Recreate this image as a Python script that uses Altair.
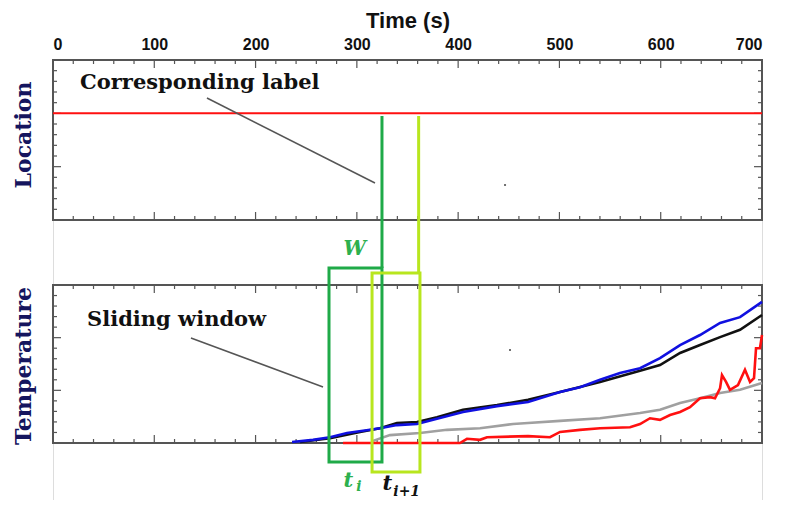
import altair as alt
import pandas as pd

# ---------------- data ----------------
x_tick_labels = [0, 100, 200, 300, 400, 500, 600, 700]
x_minor_step = 20
y_minor_step = 0.2          # both panels run 0..3 in their own units
y_major_every = 5

# Location panel: the label line
location_t = [0, 700]
location_val = [2, 2]

# Temperature panel curves (t in s, temperature in panel units 0..3)
blue_t = [236, 256.7, 273.5, 290.3, 313.0, 322.8, 339.6, 359.4, 379.1, 404.8, 438.4, 469.0,
          500.6, 520.3, 540.1, 559.8, 579.6, 599.3, 619.1, 638.8, 658.6, 678.3, 700]
blue_T = [0.02, 0.06, 0.11, 0.19, 0.25, 0.28, 0.34, 0.36, 0.46, 0.59, 0.70, 0.78,
          0.97, 1.06, 1.20, 1.33, 1.42, 1.61, 1.86, 2.05, 2.28, 2.39, 2.68]

black_t = [243.9, 273.5, 303.1, 322.8, 339.6, 359.4, 379.1, 404.8, 438.4, 469.0, 500.6,
           540.1, 579.6, 599.3, 619.1, 638.8, 658.6, 678.3, 700]
black_T = [0.02, 0.09, 0.21, 0.28, 0.38, 0.40, 0.49, 0.63, 0.72, 0.82, 0.97,
           1.16, 1.37, 1.48, 1.71, 1.86, 2.01, 2.15, 2.43]

gray_t = [315.9, 332.7, 362.3, 389.0, 421.6, 454.2, 469.0, 500.6, 540.1, 579.6, 599.3,
          619.1, 638.8, 658.6, 678.3, 700]
gray_T = [0.04, 0.15, 0.19, 0.25, 0.28, 0.36, 0.38, 0.42, 0.47, 0.57, 0.63,
          0.76, 0.85, 0.95, 1.01, 1.14]

red_t = [286.3, 401.8, 408.7, 421.6, 428.5, 469.0, 490.7, 500.6, 520.3, 540.1, 569.7,
         579.6, 589.4, 599.3, 609.2, 619.1, 628.9, 638.8, 648.7, 653.6, 658.6, 660.5,
         664.5, 668.4, 676.3, 683.2, 688.2, 692.1, 694.1, 698.0, 700]
red_T = [0.0, 0.0, 0.08, 0.06, 0.11, 0.13, 0.11, 0.21, 0.25, 0.28, 0.30,
         0.36, 0.47, 0.44, 0.53, 0.59, 0.68, 0.85, 0.87, 0.85, 1.04, 1.29,
         1.16, 1.01, 1.10, 1.39, 1.16, 1.23, 1.80, 1.80, 2.05]

# Sliding windows (t_i and t_i+1)
window_left = [272.5, 315.0]
window_right = [324.8, 362.3]
window_colors = ["#1faa48", "#b8e61e"]

# ---------------- layout (figure units = px inside plot area) ----------------
W, H = 709, 440
TOP_Y0, TOP_Y3 = 160, 0        # Location 0 and 3
BOT_Y0, BOT_Y3 = 383, 225      # Temperature 0 and 3
PX_T = 700 / W                 # seconds per pixel


def fy_top(v):
    return TOP_Y0 + (TOP_Y3 - TOP_Y0) * v / 3


def fy_bot(v):
    return BOT_Y0 + (BOT_Y3 - BOT_Y0) * v / 3


xs = alt.Scale(domain=[0, 700], nice=False, zero=False)
ys = alt.Scale(domain=[0, H], reverse=True, nice=False, zero=False)
xaxis = alt.Axis(orient="top", values=x_tick_labels, domain=False, ticks=False, grid=False,
                 labelFont="Liberation Sans", labelFontWeight="bold", labelFontSize=16,
                 labelColor="#111", labelPadding=8, title="Time (s)",
                 titleFont="Liberation Sans", titleFontSize=22, titleFontWeight="bold",
                 titleColor="#111", titlePadding=4)
X = alt.X("t:Q", scale=xs, axis=xaxis)
Y = alt.Y("fy:Q", scale=ys, axis=None)
X2 = alt.X2("t2:Q")
Y2 = alt.Y2("fy2:Q")

# frames
frames = pd.DataFrame({"t": [0, 0], "t2": [700, 700],
                       "fy": [fy_top(3), fy_bot(3)], "fy2": [fy_top(0), fy_bot(0)]})

# tick marks (inward)
rows = []
for panel in (fy_top, fy_bot):
    ytop, ybot = panel(3), panel(0)
    for t in range(0, 701, x_minor_step):
        ln = 8 if t % 100 == 0 else 4
        rows.append({"t": t, "t2": t, "fy": ytop, "fy2": ytop + ln})
        rows.append({"t": t, "t2": t, "fy": ybot, "fy2": ybot - ln})
    for k in range(0, 16):
        v = k * y_minor_step
        ln = (8 if k % y_major_every == 0 else 4) * PX_T
        rows.append({"t": 0, "t2": ln, "fy": panel(v), "fy2": panel(v)})
        rows.append({"t": 700, "t2": 700 - ln, "fy": panel(v), "fy2": panel(v)})
ticks = pd.DataFrame(rows)

loc_df = pd.DataFrame({"t": location_t, "fy": [fy_top(v) for v in location_val]})


def curve(ts, vs):
    return pd.DataFrame({"t": ts, "fy": [fy_bot(v) for v in vs]})


boxes = pd.DataFrame({"t": window_left, "t2": window_right,
                      "fy": [208, 213], "fy2": [402, 412], "c": window_colors})
vlines = pd.DataFrame({"t": [324.8, 361.0], "t2": [324.8, 361.0],
                       "fy": [fy_top(1.95), fy_top(1.95)], "fy2": [208, 213], "c": window_colors})

pointers = pd.DataFrame({"t": [152.0, 136.2], "t2": [317.9, 266.6],
                         "fy": [38, 278], "fy2": [123, 327]})

dots = pd.DataFrame({"t": [446.3, 451.2], "fy": [125, 290]})

base_rule = alt.Chart(ticks).mark_rule(color="#555", strokeWidth=1.2).encode(x=X, x2=X2, y=Y, y2=Y2)
frame_layer = alt.Chart(frames).mark_rect(filled=False, stroke="#555", strokeWidth=2).encode(
    x=X, x2=X2, y=Y, y2=Y2)
loc_layer = alt.Chart(loc_df).mark_line(color="#ff1010", strokeWidth=2).encode(x=X, y=Y)


def line_layer(ts, vs, color):
    return alt.Chart(curve(ts, vs)).mark_line(color=color, strokeWidth=2.6).encode(x=X, y=Y)


box_layer = alt.Chart(boxes).mark_rect(filled=False, strokeWidth=3).encode(
    x=X, x2=X2, y=Y, y2=Y2, stroke=alt.Stroke("c:N", scale=None))
vline_layer = alt.Chart(vlines).mark_rule(strokeWidth=3).encode(
    x=X, x2=X2, y=Y, y2=Y2, color=alt.Color("c:N", scale=None))
pointer_layer = alt.Chart(pointers).mark_rule(color="#555", strokeWidth=1.5).encode(
    x=X, x2=X2, y=Y, y2=Y2)
dot_layer = alt.Chart(dots).mark_square(color="#333", size=4).encode(x=X, y=Y)

ann = pd.DataFrame({"t": [26.7, 33.6], "fy": [23, 260],
                    "label": ["Corresponding label", "Sliding window"]})
ann_layer = alt.Chart(ann).mark_text(font="DejaVu Serif", fontWeight="bold", fontSize=21,
                                     align="left", baseline="middle", color="#111").encode(
    x=X, y=Y, text="label:N")

ytitles = pd.DataFrame({"t": [-28.6, -28.6], "fy": [75, 306], "label": ["Location", "Temperature"]})
ytitle_layer = alt.Chart(ytitles).mark_text(font="DejaVu Serif", fontWeight="bold", fontSize=22,
                                            angle=270, align="center", baseline="middle",
                                            color="#15155e").encode(x=X, y=Y, text="label:N")

w_df = pd.DataFrame({"t": [298.0], "fy": [189], "label": ["W"]})
w_layer = alt.Chart(w_df).mark_text(font="DejaVu Serif", fontStyle="italic", fontWeight="bold",
                                    fontSize=20, align="center", baseline="middle",
                                    color="#2db04e").encode(x=X, y=Y, text="label:N")

tmain = pd.DataFrame({"t": [291.5, 330.0], "fy": [421, 424], "label": ["t", "t"],
                      "c": ["#2db04e", "#111"]})
tmain_layer = alt.Chart(tmain).mark_text(font="DejaVu Serif", fontStyle="italic", fontWeight="bold",
                                         fontSize=21, align="center", baseline="middle").encode(
    x=X, y=Y, text="label:N", color=alt.Color("c:N", scale=None))
tsub = pd.DataFrame({"t": [299.5, 336.0], "fy": [427, 432], "label": ["i", "i+1"],
                     "c": ["#2db04e", "#111"]})
tsub_layer = alt.Chart(tsub).mark_text(font="DejaVu Serif", fontStyle="italic", fontWeight="bold",
                                       fontSize=14, align="left", baseline="middle").encode(
    x=X, y=Y, text="label:N", color=alt.Color("c:N", scale=None))

chart = alt.layer(
    frame_layer, base_rule, loc_layer,
    line_layer(gray_t, gray_T, "#a0a0a0"),
    line_layer(red_t, red_T, "#ff1010"),
    line_layer(black_t, black_T, "#111111"),
    line_layer(blue_t, blue_T, "#1010e0"),
    box_layer, vline_layer, pointer_layer, dot_layer,
    ann_layer, ytitle_layer, w_layer, tmain_layer, tsub_layer,
).properties(
    width=W, height=H,
    autosize=alt.AutoSizeParams(type="none"),
    padding={"left": 45, "top": 52, "right": 10, "bottom": 0},
).configure_view(stroke=None).configure(background="white")

chart.save("out.html", embed_options={"renderer": "svg", "actions": False})
